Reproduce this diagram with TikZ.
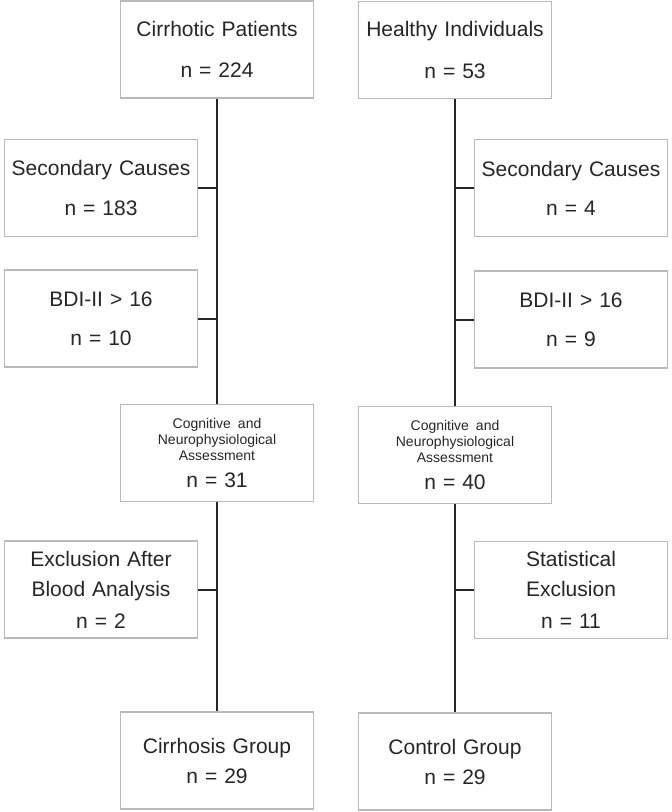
\documentclass[tikz,border=0pt]{standalone}
\usepackage{fontspec}
\setmainfont{Liberation Sans}

\begin{document}
\begin{tikzpicture}[x=0.5pt,y=-0.5pt,
        box/.style={draw=gray!55, line width=0.7pt, minimum width=96.5pt, minimum height=48.5pt,
            text width=94pt, align=center, inner sep=0pt, text=black!85,
            font=\fontsize{10.5}{12.6}\selectfont},
        link/.style={draw=black!85, line width=1pt}]
    \useasboundingbox (0,0) rectangle (672,812);
    % left column
    \node[box] (cirr) at (217,49.5) {Cirrhotic Patients\\[8pt] n = 224};
    \node[box] (secL) at (101,188) {Secondary Causes\\[7pt] n = 183};
    \node[box] (bdiL) at (101,318.5) {BDI-II > 16\\[7pt] n = 10};
    \node[box] (cogL) at (217,453) {{\fontsize{7}{8}\selectfont \mbox{Cognitive and}\\ \mbox{Neurophysiological}\\ \mbox{Assessment}\par}\vspace{1pt}n = 31};
    \node[box] (exL) at (101,589.5) {Exclusion After\\[2.4pt] Blood Analysis\\[3.4pt] n = 2};
    \node[box] (grpL) at (217,760.5) {Cirrhosis Group\\[2.4pt] n = 29};
    % right column
    \node[box] (heal) at (455,50) {Healthy Individuals\\[8pt] n = 53};
    \node[box] (secR) at (571,188) {Secondary Causes\\[7pt] n = 4};
    \node[box] (bdiR) at (571,319.5) {BDI-II > 16\\[7pt] n = 9};
    \node[box] (cogR) at (455,455) {{\fontsize{7}{8}\selectfont \mbox{Cognitive and}\\ \mbox{Neurophysiological}\\ \mbox{Assessment}\par}\vspace{1pt}n = 40};
    \node[box] (statR) at (571,590) {Statistical\\[2.4pt] Exclusion\\[3.4pt] n = 11};
    \node[box] (grpR) at (455,761.5) {Control Group\\[2.4pt] n = 29};
    % trunks and branches
    \draw[link] (cirr.south) -- (cogL.north);
    \draw[link] (secL.east) -- (secL.east -| cirr.south);
    \draw[link] (bdiL.east) -- (bdiL.east -| cirr.south);
    \draw[link] (cogL.south) -- (grpL.north);
    \draw[link] (exL.east) -- (exL.east -| cogL.south);
    \draw[link] (heal.south) -- (cogR.north);
    \draw[link] (secR.west) -- (secR.west -| heal.south);
    \draw[link] (bdiR.west) -- (bdiR.west -| heal.south);
    \draw[link] (cogR.south) -- (grpR.north);
    \draw[link] (statR.west) -- (statR.west -| cogR.south);
\end{tikzpicture}
\end{document}
